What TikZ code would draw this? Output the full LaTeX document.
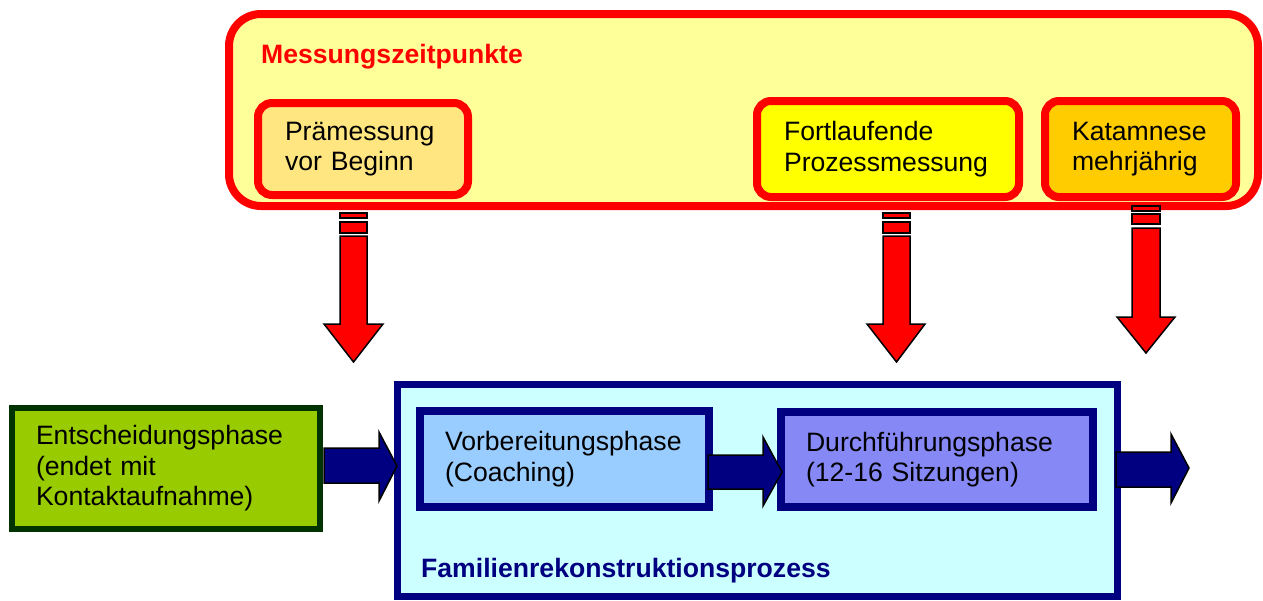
\documentclass[tikz,border=0pt]{standalone}
\usepackage{fontspec}
\setmainfont{Liberation Sans}
\definecolor{mred}{HTML}{FF0000}
\definecolor{myellow}{HTML}{FFFF99}
\definecolor{mpre}{HTML}{FFE680}
\definecolor{mfort}{HTML}{FFFF00}
\definecolor{mkat}{HTML}{FFCC00}
\definecolor{mnavy}{HTML}{000080}
\definecolor{mcyan}{HTML}{CCFFFF}
\definecolor{mvorb}{HTML}{99CCFF}
\definecolor{mdurch}{RGB}{133,136,245}
\definecolor{mgreen}{HTML}{99CC00}
\definecolor{mdgreen}{HTML}{003300}
\newcommand{\myfs}{\fontsize{26.6}{30.5}\selectfont}
\tikzset{
  measbox/.style={draw=mred, line width=8pt, rounded corners=14pt, inner xsep=27pt, inner ysep=0pt, align=left, font=\myfs},
  phasebox/.style={draw=mnavy, line width=8pt, inner xsep=25pt, inner ysep=0pt, align=left, font=\myfs},
  redarrow/.style={draw=black, fill=mred, line width=1.5pt, line join=miter},
  bluearrow/.style={draw=black, fill=mnavy, line width=1.5pt, line join=miter},
}
\begin{document}
\begin{tikzpicture}[x=1pt,y=-1pt]
\useasboundingbox (0,0) rectangle (1263,600);
% top container
\node[draw=mred, fill=myellow, line width=8pt, rounded corners=32pt, minimum width=1029pt, minimum height=192pt, inner sep=0pt] (top) at (743.5,110) {};
\node[anchor=base west, font=\myfs\bfseries, text=mred, inner sep=0pt] (title) at (261,63) {Messungszeitpunkte};
\node[measbox, fill=mpre, minimum width=210pt, minimum height=92pt, text width=156pt] (pre) at (363,149) {Prämessung\\vor Beginn};
\node[measbox, fill=mfort, minimum width=262pt, minimum height=96pt, text width=208pt] (fort) at (888,149) {Fortlaufende\\Prozessmessung};
\node[measbox, fill=mkat, minimum width=191pt, minimum height=96pt, text width=137pt] (kat) at (1140.5,149) {Katamnese\\mehrjährig};
% bottom
\node[draw=mdgreen, fill=mgreen, line width=6pt, minimum width=308pt, minimum height=121pt, inner xsep=24pt, inner ysep=0pt, text width=260pt, align=left, font=\myfs] (ent) at (166,468.5) {Entscheidungsphase\\(endet mit\\Kontaktaufnahme)};
\node[draw=mnavy, fill=mcyan, line width=7pt, minimum width=720pt, minimum height=212pt, inner sep=0pt] (fam) at (757,490) {};
\node[anchor=base west, font=\myfs\bfseries, text=mnavy, inner sep=0pt] (famlabel) at (421,577) {Familienrekonstruktionsprozess};
\node[phasebox, fill=mvorb, minimum width=289pt, minimum height=96pt, text width=239pt] (vorb) at (564.5,459) {Vorbereitungsphase\\(Coaching)};
\node[phasebox, fill=mdurch, minimum width=312pt, minimum height=95pt, text width=262pt] (durch) at (937,459.5) {Durchführungsphase\\(12-16 Sitzungen)};
% fix box positions (text shifted only)
% red striped arrows
\foreach \xl/\xr/\hl/\hr/\tx/\sa/\sb/\sc/\sd/\st/\hy/\ty in
  {340/367/324/383/353.5/213/218/222/233/236/324/362,
   883/910/867/925/896.5/213/218/222/233/236/324/362,
   1132/1160/1117/1175/1146/206/211/214/224/228/317/353}{
  \draw[redarrow] (\xl,\sa) rectangle (\xr,\sb);
  \draw[redarrow] (\xl,\sc) rectangle (\xr,\sd);
  \draw[redarrow] (\xl,\st) -- (\xr,\st) -- (\xr,\hy) -- (\hr,\hy) -- (\tx,\ty) -- (\hl,\hy) -- (\xl,\hy) -- cycle;
}
% blue arrows
\foreach \xa/\xb/\ya/\yb/\ha/\hb/\tx/\ty in
  {324/379/448/483/432/501/397/466,
   708/763/455/489/437/506/782/472,
   1116/1171/452/487/434/503/1189/468}{
  \draw[bluearrow] (\xa,\ya) -- (\xb,\ya) -- (\xb,\ha) -- (\tx,\ty) -- (\xb,\hb) -- (\xb,\yb) -- (\xa,\yb) -- cycle;
}
\end{tikzpicture}
\end{document}
